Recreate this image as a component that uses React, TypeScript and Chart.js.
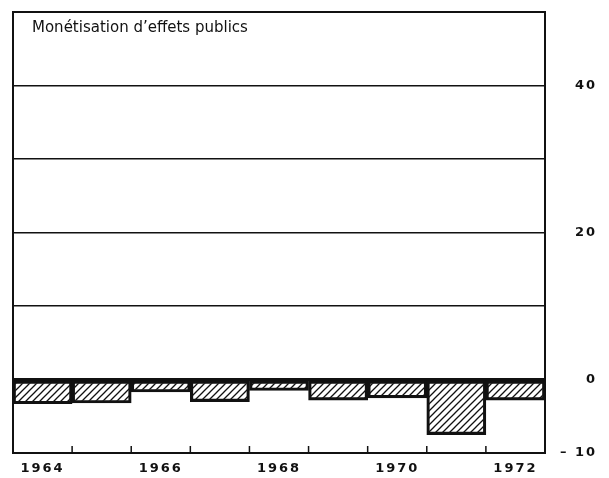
import React, { useEffect, useRef } from 'react';
import { Chart, registerables } from 'chart.js';
Chart.register(...registerables);

const years = ['1964', '1965', '1966', '1967', '1968', '1969', '1970', '1971', '1972'];
const values = [-3.3, -3.2, -1.7, -3.0, -1.5, -2.8, -2.5, -7.5, -2.8];
const labeledYears = ['1964', '1966', '1968', '1970', '1972'];
const yTickValues = [40, 20, 0, -10];
const yTickTexts = ['40', '20', '0', '– 10'];
const title = 'Monétisation d’effets publics';

const INK = '#111';

function makeHatch(ctx: CanvasRenderingContext2D) {
  const s = 7;
  const c = document.createElement('canvas');
  c.width = s;
  c.height = s;
  const g = c.getContext('2d')!;
  g.strokeStyle = INK;
  g.lineWidth = 1.3;
  g.beginPath();
  g.moveTo(0, s);
  g.lineTo(s, 0);
  g.moveTo(-1, 1);
  g.lineTo(1, -1);
  g.moveTo(s - 1, s + 1);
  g.lineTo(s + 1, s - 1);
  g.stroke();
  return ctx.createPattern(c, 'repeat')!;
}

const framePlugin = {
  id: 'frame',
  beforeLayout(chart: any) {
    (chart.ctx as any).letterSpacing = '2px';
  },
  beforeDraw(chart: any) {
    (chart.ctx as any).letterSpacing = '2px';
  },
  afterDraw(chart: any) {
    const { ctx, chartArea } = chart;
    const xs = chart.scales.x;
    ctx.save();
    (ctx as any).letterSpacing = '0px';
    ctx.strokeStyle = INK;
    ctx.lineWidth = 2;
    ctx.strokeRect(chartArea.left, chartArea.top, chartArea.right - chartArea.left, chartArea.bottom - chartArea.top);
    ctx.lineWidth = 1.5;
    ctx.beginPath();
    for (let i = 1; i < years.length; i++) {
      const x = (xs.getPixelForValue(i - 1) + xs.getPixelForValue(i)) / 2;
      ctx.moveTo(x, chartArea.bottom);
      ctx.lineTo(x, chartArea.bottom - 7);
    }
    ctx.stroke();
    ctx.fillStyle = INK;
    ctx.font = '15px "DejaVu Sans", sans-serif';
    ctx.textBaseline = 'middle';
    ctx.textAlign = 'left';
    ctx.fillText(title, chartArea.left + 19, chartArea.top + 16);
    ctx.restore();
  },
};

export default function App() {
  const ref = useRef<HTMLCanvasElement | null>(null);
  useEffect(() => {
    const canvas = ref.current!;
    const ctx = canvas.getContext('2d')!;
    const hatch = makeHatch(ctx);
    const chart = new Chart(canvas, {
      type: 'bar',
      data: {
        labels: years,
        datasets: [
          {
            data: values,
            backgroundColor: hatch,
            borderColor: INK,
            borderWidth: 2.5,
            borderSkipped: false,
            barPercentage: 1,
            categoryPercentage: 1,
          },
        ],
      },
      options: {
        responsive: false,
        animation: false,
        layout: { padding: { left: 13, top: 12, right: 12, bottom: 0 } },
        plugins: { legend: { display: false }, tooltip: { enabled: false }, title: { display: false } },
        scales: {
          x: {
            offset: true,
            grid: { display: false, drawTicks: false },
            border: { display: false },
            ticks: {
              autoSkip: false,
              maxRotation: 0,
              padding: 8,
              color: INK,
              font: { family: '"DejaVu Sans", sans-serif', size: 13, weight: 'bold' },
              callback: (v: any, i: number) => (labeledYears.includes(years[i]) ? years[i] : ''),
            },
            afterFit: (s: any) => {
              s.height = 25;
              s.paddingLeft = 0;
              s.paddingRight = 0;
            },
          },
          y: {
            position: 'right',
            min: -10,
            max: 50,
            grid: {
              drawTicks: false,
              color: INK,
              lineWidth: (c: any) => (c.tick && c.tick.value === 0 ? 3 : 1.5),
            },
            border: { display: false },
            ticks: {
              stepSize: 10,
              padding: 5,
              crossAlign: 'far',
              color: INK,
              font: { family: '"DejaVu Sans", sans-serif', size: 13, weight: 'bold' },
              callback: (v: any) => {
                const k = yTickValues.indexOf(Number(v));
                return k >= 0 ? yTickTexts[k] : '';
              },
            },
            afterFit: (s: any) => {
              s.width = 52;
              s.paddingTop = 0;
              s.paddingBottom = 0;
            },
          },
        },
      } as any,
      plugins: [framePlugin],
    });
    return () => chart.destroy();
  }, []);
  return (
    <div style={{ position: 'absolute', left: 0, top: 0, width: 609, height: 478, background: '#fff' }}>
      <canvas ref={ref} width={609} height={478} style={{ display: 'block' }} />
    </div>
  );
}
